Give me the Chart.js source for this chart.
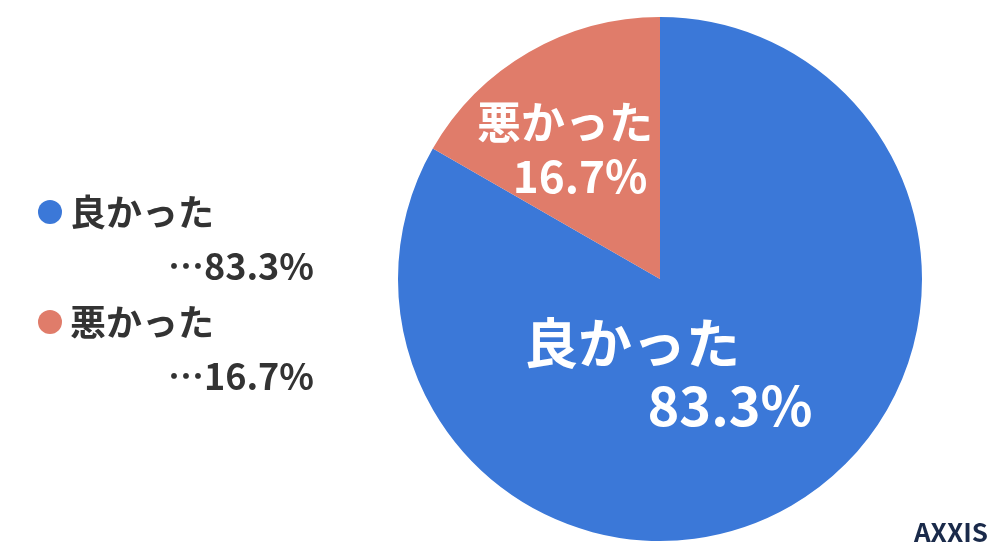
<!DOCTYPE html>
<html><head><meta charset="utf-8">
<script src="https://cdn.jsdelivr.net/npm/chart.js@4"></script>
<style>body{margin:0;background:#fff}#wrap{width:1000px;height:558px}</style>
</head><body>
<div id="wrap"><canvas id="myChart"></canvas></div>
<script>
// categories and shares
var labels = ["良かった", "悪かった"];
var values = [83.3, 16.7];
var colors = ["#3b78d8", "#e07c6a"];

var JP = '"Noto Sans CJK JP", "Noto Sans", sans-serif';

// draws legend, slice labels and logo
var textPlugin = {
  id: 'texts',
  afterDraw: function (chart) {
    var c = chart.ctx;
    c.save();
    c.textBaseline = 'middle';
    // legend on the left
    var ly = [212, 322];
    for (var i = 0; i < labels.length; i++) {
      c.fillStyle = colors[i];
      c.beginPath(); c.arc(50, ly[i], 12, 0, Math.PI * 2); c.fill();
      c.fillStyle = '#333';
      c.font = 'bold 36px ' + JP;
      c.textAlign = 'left';
      c.fillText(labels[i], 70, ly[i]);
      c.textAlign = 'right';
      c.fillText('…' + values[i].toFixed(1) + '%', 314, ly[i] + 54);
    }
    // labels inside slices
    c.fillStyle = '#fff';
    c.textAlign = 'center';
    c.font = 'bold 44px ' + JP;
    c.fillText(labels[1], 565, 122);
    c.fillText(values[1].toFixed(1) + '%', 580, 176);
    c.font = 'bold 54px ' + JP;
    c.fillText(labels[0], 632, 343);
    c.fillText(values[0].toFixed(1) + '%', 730, 405);
    // logo
    c.fillStyle = '#1a2a4a';
    c.font = 'bold 26px ' + JP;
    c.textAlign = 'right';
    c.fillText('AXXIS', 988, 532);
    c.restore();
  }
};

new Chart(document.getElementById('myChart'), {
  type: 'pie',
  data: {
    labels: labels,
    datasets: [{ data: values, backgroundColor: colors, borderWidth: 0 }]
  },
  options: {
    responsive: true,
    maintainAspectRatio: false,
    animation: false,
    layout: { padding: { left: 398, right: 78, top: 16, bottom: 16 } },
    plugins: { legend: { display: false }, tooltip: { enabled: false } }
  },
  plugins: [textPlugin]
});
</script>
</body></html>
